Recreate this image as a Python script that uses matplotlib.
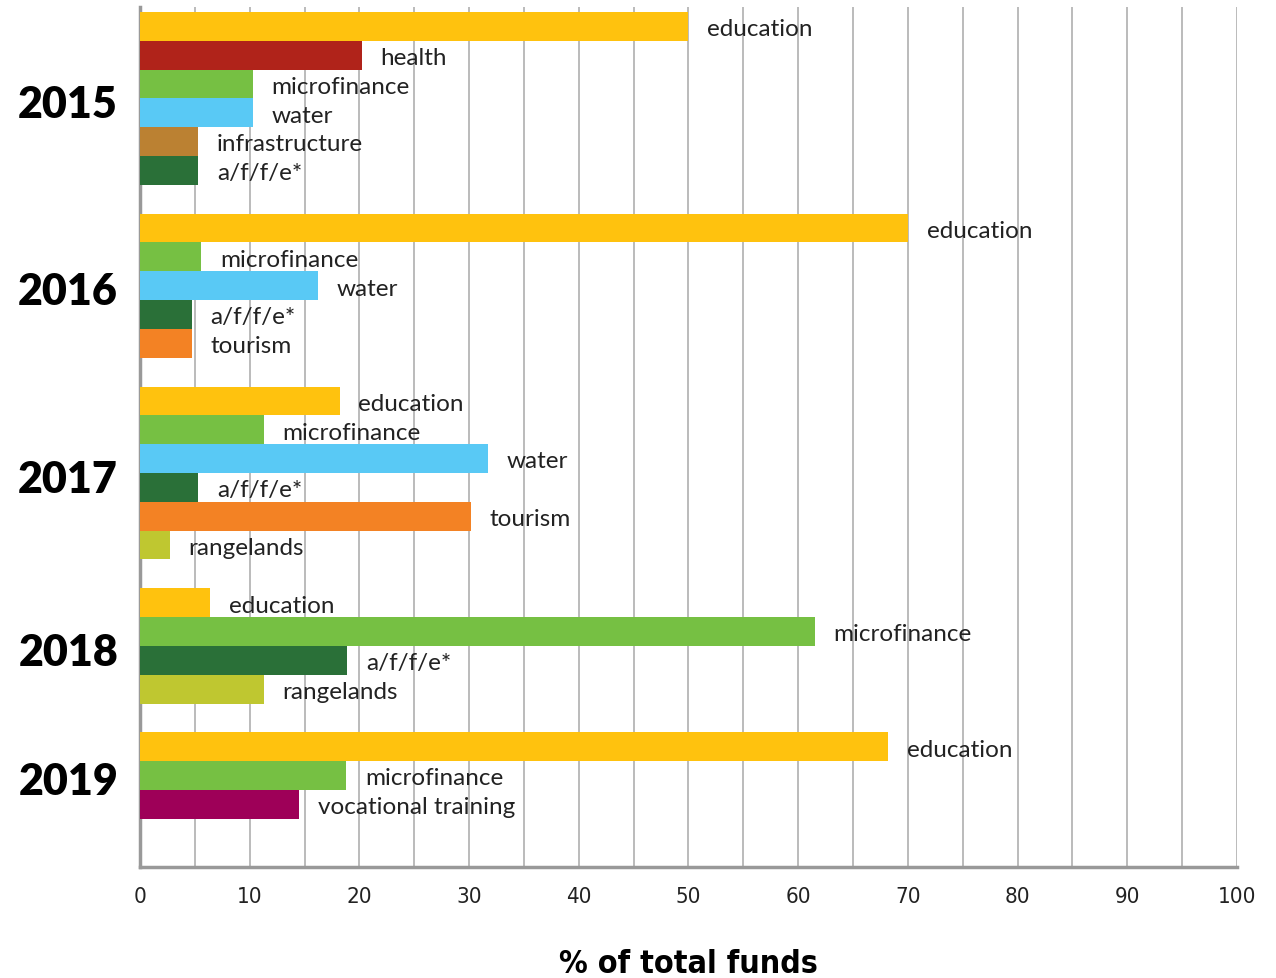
import matplotlib.pyplot as plt
from matplotlib.ticker import MultipleLocator

# data (% of total funds per year)
years = ["2015", "2016", "2017", "2018", "2019"]

cats_2015 = ["education", "health", "microfinance", "water", "infrastructure", "a/f/f/e*"]
vals_2015 = [50.0, 20.2, 10.3, 10.3, 5.3, 5.3]

cats_2016 = ["education", "microfinance", "water", "a/f/f/e*", "tourism"]
vals_2016 = [70.0, 5.6, 16.2, 4.7, 4.7]

cats_2017 = ["education", "microfinance", "water", "a/f/f/e*", "tourism", "rangelands"]
vals_2017 = [18.2, 11.3, 31.7, 5.3, 30.2, 2.7]

cats_2018 = ["education", "microfinance", "a/f/f/e*", "rangelands"]
vals_2018 = [6.4, 61.5, 18.9, 11.3]

cats_2019 = ["education", "microfinance", "vocational training"]
vals_2019 = [68.2, 18.8, 14.5]

colors = {
    "education": "#FFC20E",
    "health": "#B0231A",
    "microfinance": "#76C043",
    "water": "#59C9F5",
    "infrastructure": "#BB8132",
    "a/f/f/e*": "#2A7038",
    "tourism": "#F38224",
    "rangelands": "#BFC730",
    "vocational training": "#9E0058",
}

groups = [
    (cats_2015, vals_2015),
    (cats_2016, vals_2016),
    (cats_2017, vals_2017),
    (cats_2018, vals_2018),
    (cats_2019, vals_2019),
]

label_font = "Lato"
fig = plt.figure(figsize=(12.76, 9.79), dpi=100)
ax = fig.add_axes([0.1097, 0.1134, 0.8597, 0.8784])

pos = 0
for year, (cats, vals) in zip(years, groups):
    start = pos
    for c, v in zip(cats, vals):
        y = pos + 0.5
        ax.barh(y, v, height=1.0, color=colors[c], zorder=3)
        ax.text(v + 1.7, y + 0.08, c, va="center", ha="left",
                fontsize=17.5, family=label_font, color="#222222", zorder=4)
        pos += 1
    mid = (start + pos) / 2
    ax.text(-0.02, mid + 0.2, year, transform=ax.get_yaxis_transform(),
            ha="right", va="center", fontsize=31, fontweight="heavy",
            family=label_font, color="black")
    pos += 1  # gap between years

ax.set_xlim(0, 100)
ax.set_ylim(pos + 0.67, -0.17)
ax.xaxis.set_major_locator(MultipleLocator(10))
ax.xaxis.set_minor_locator(MultipleLocator(5))
ax.grid(True, axis="x", which="both", color="#b5b5b5", linewidth=1.3, zorder=0)
ax.set_yticks([])
ax.tick_params(axis="x", which="both", length=0, pad=14)
for lab in ax.get_xticklabels():
    lab.set_family("DejaVu Sans")
    lab.set_fontstretch("condensed")
    lab.set_fontsize(16)
    lab.set_color("#222222")

for s in ["top", "right"]:
    ax.spines[s].set_visible(False)
for s in ["left", "bottom"]:
    ax.spines[s].set_color("#999999")
    ax.spines[s].set_linewidth(2.5)

ax.set_xlabel("% of total funds", fontsize=23, fontweight="bold",
              family="DejaVu Sans", fontstretch="condensed", labelpad=30)

fig.savefig("out.png", dpi=100)
